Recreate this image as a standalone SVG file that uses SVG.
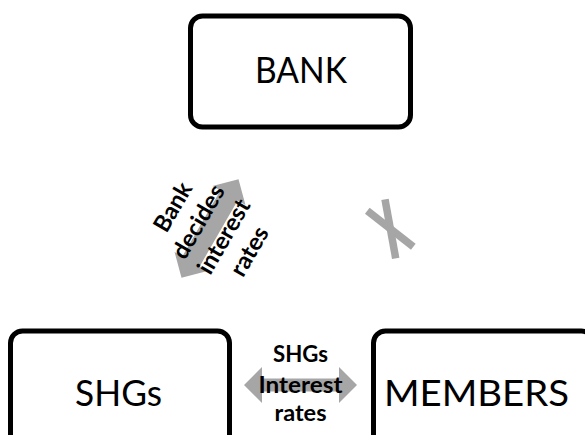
<svg xmlns="http://www.w3.org/2000/svg" width="585" height="435" viewBox="0 0 585 435">
  <defs>
    <style>
      .box { fill: #ffffff; stroke: #000000; stroke-width: 5; }
      .big { font-family: Lato, "Open Sans", "Liberation Sans", sans-serif; font-size: 37px; fill: #000000; text-anchor: middle; }
      .small { font-family: Lato, "Open Sans", "Liberation Sans", sans-serif; font-size: 23.5px; font-weight: bold; fill: #000000; text-anchor: middle; }
      .arrow { fill: #a6a6a6; }
      .bar { stroke: #a6a6a6; stroke-width: 7.5; fill: none; stroke-linecap: butt; }
    </style>
    <!-- double-headed block arrows, centred on the origin -->
    <path id="dbl" class="arrow" d="M-56.5,0 L-38.5,-18 L-38.5,-6.5 L38.5,-6.5 L38.5,-18 L56.5,0 L38.5,18 L38.5,6.5 L-38.5,6.5 L-38.5,18 Z"/>
    <path id="dbl-wide" class="arrow" d="M-57,0 L-38,-19 L-38,-10 L38,-10 L38,-19 L57,0 L38,19 L38,10 L-38,10 L-38,19 Z"/>
  </defs>
  <rect width="585" height="435" fill="#ffffff"/>

  <g id="bank">
    <rect class="box" x="190.5" y="16" width="220" height="111" rx="12"/>
    <text class="big" x="301" y="83" textLength="92" lengthAdjust="spacingAndGlyphs">BANK</text>
  </g>

  <g id="shgs">
    <rect class="box" x="10.5" y="331" width="219" height="120" rx="12"/>
    <text class="big" x="118.5" y="406" textLength="87" lengthAdjust="spacingAndGlyphs">SHGs</text>
  </g>

  <g id="members">
    <rect class="box" x="373.5" y="331" width="220" height="120" rx="12"/>
    <text class="big" x="476.5" y="406" textLength="185" lengthAdjust="spacingAndGlyphs">MEMBERS</text>
  </g>

  <g id="connectors">
    <!-- bank to SHGs -->
    <g id="bank-shgs" transform="translate(210,228.5) rotate(-60)">
      <use href="#dbl-wide"/>
      <text class="small" x="0" y="-35" textLength="53" lengthAdjust="spacingAndGlyphs">Bank</text>
      <text class="small" x="0" y="-5.5" textLength="81" lengthAdjust="spacingAndGlyphs">decides</text>
      <text class="small" x="0" y="24" textLength="82" lengthAdjust="spacingAndGlyphs">interest</text>
      <text class="small" x="0" y="53.5" textLength="53" lengthAdjust="spacingAndGlyphs">rates</text>
    </g>
    <!-- SHGs to members -->
    <g id="shgs-members" transform="translate(300.5,385)">
      <use href="#dbl"/>
      <text class="small" x="0" y="-23" textLength="55" lengthAdjust="spacingAndGlyphs">SHGs</text>
      <text class="small" x="0" y="7.5" textLength="84" lengthAdjust="spacingAndGlyphs">Interest</text>
      <text class="small" x="0" y="35.5" textLength="52" lengthAdjust="spacingAndGlyphs">rates</text>
    </g>
    <!-- no direct link between bank and members -->
    <g id="bank-members-cut">
      <line class="bar" x1="367.3" y1="210.7" x2="413.3" y2="246.7"/>
      <line class="bar" x1="385" y1="199.3" x2="395.7" y2="258.3"/>
    </g>
  </g>
</svg>
